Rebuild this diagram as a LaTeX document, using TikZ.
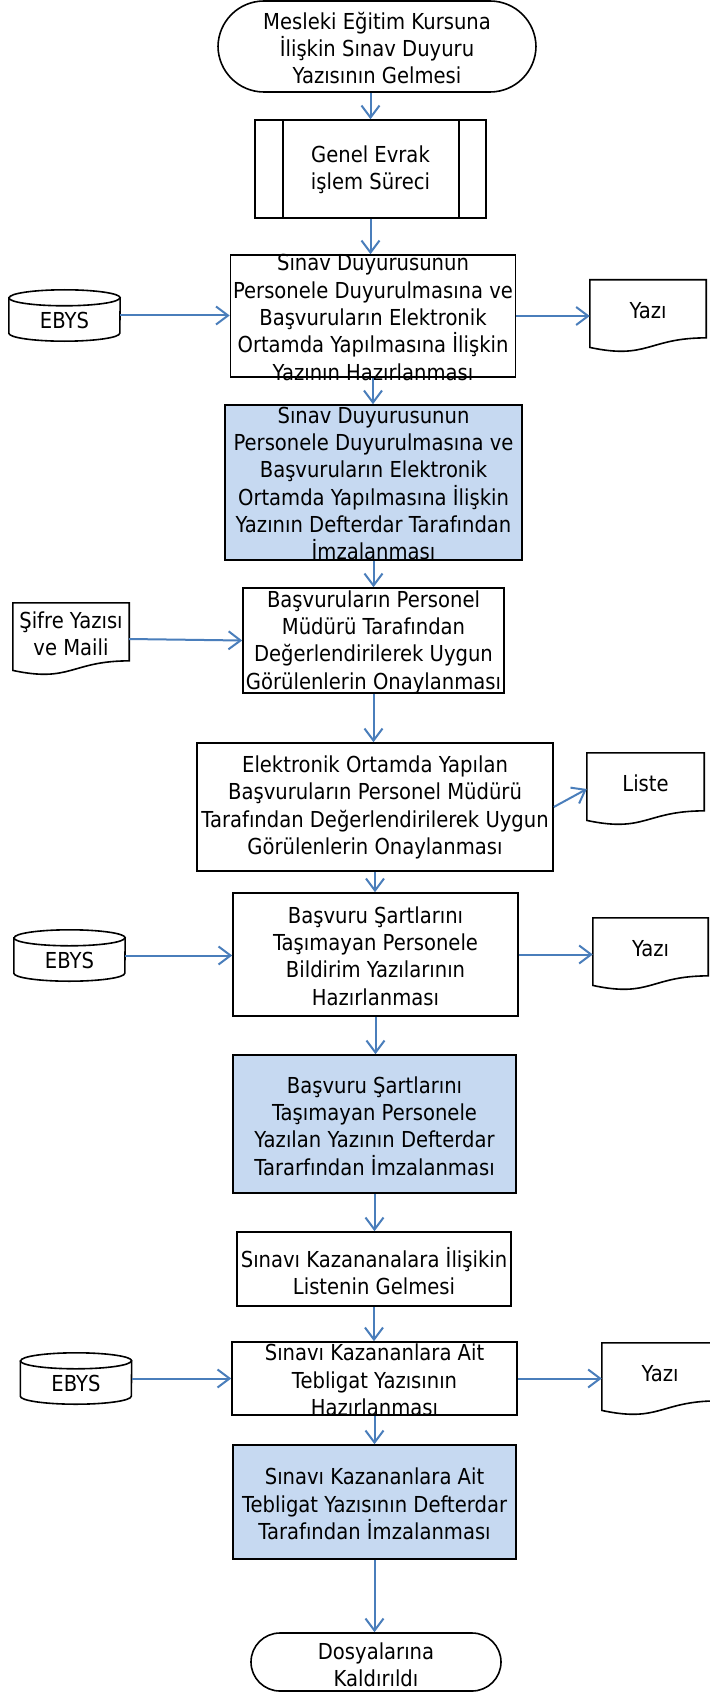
\documentclass[tikz,border=0pt]{standalone}
\usepackage{fontspec}
\setmainfont{DejaVu Sans}[FakeStretch=0.89]
\usetikzlibrary{arrows.meta,calc}
\definecolor{arrowblue}{HTML}{4A7EBB}
\definecolor{boxblue}{HTML}{C6D9F1}
\newcommand{\mycyl}[1]{%
  \draw[shapeline,fill=white] ([yshift=-8pt]#1.north west) -- ([yshift=8pt]#1.south west)
    arc[start angle=180,end angle=360,x radius=55.5pt,y radius=8pt]
    -- ([yshift=-8pt]#1.north east)
    arc[start angle=0,end angle=180,x radius=55.5pt,y radius=8pt] -- cycle;
  \draw[shapeline] ([yshift=-8pt]#1.north west)
    arc[start angle=180,end angle=360,x radius=55.5pt,y radius=8pt];}
\newcommand{\mydoc}[1]{%
  \draw[shapeline,fill=white] (#1.north west) -- (#1.north east)
    -- ($(#1.north east)!0.802!(#1.south east)$)
    .. controls ($(#1.north)!0.802!(#1.south)$) and ($(#1.north)!1.107!(#1.south)$)
    .. ($(#1.north west)!0.934!(#1.south west)$) -- cycle;}
\begin{document}
\begin{tikzpicture}[x=1pt,y=-1pt,
  shapeline/.style={draw=black,line width=1.6pt},
  procbox/.style={shapeline,rectangle,inner sep=0pt},
  bluebox/.style={procbox,fill=boxblue},
  frame/.style={rectangle,inner sep=0pt},
  txt/.style={align=center,inner sep=0pt,font=\fontsize{22}{27.3}\selectfont},
  flow/.style={draw=arrowblue,line width=2pt,-{Straight Barb[length=12pt,width=18pt]}}]
\useasboundingbox (0,0) rectangle (709,1693);
\fill[white] (0,0) rectangle (709,1693);

% main column
\node[procbox,rounded corners=46pt,minimum width=318pt,minimum height=91pt] (start) at (377,46.5) {};
\node[txt] (startt) at (377,48) {Mesleki Eğitim Kursuna\\İlişkin Sınav Duyuru\\Yazısının Gelmesi};

\node[procbox,minimum width=231pt,minimum height=98pt] (genel) at (370.5,169) {};
\draw[shapeline] ([xshift=29pt]genel.north west) -- ([xshift=29pt]genel.south west);
\draw[shapeline] ([xshift=-28pt]genel.north east) -- ([xshift=-28pt]genel.south east);
\node[txt] (genelt) at (370.5,170) {Genel Evrak\\işlem Süreci};

\node[procbox,minimum width=285pt,minimum height=122pt] (boxA) at (373,316) {};
\node[txt] (boxAt) at (373,317.5) {Sınav Duyurusunun\\Personele Duyurulmasına ve\\Başvuruların Elektronik\\Ortamda Yapılmasına İlişkin\\Yazının Hazırlanması};

\node[bluebox,minimum width=297pt,minimum height=155pt] (boxB) at (373.5,482.5) {};
\node[txt] (boxBt) at (373.5,483.5) {Sınav Duyurusunun\\Personele Duyurulmasına ve\\Başvuruların Elektronik\\Ortamda Yapılmasına İlişkin\\Yazının Defterdar Tarafından\\İmzalanması};

\node[procbox,minimum width=261pt,minimum height=105pt] (boxC) at (373.5,640.5) {};
\node[txt] (boxCt) at (373.5,642) {Başvuruların Personel\\Müdürü Tarafından\\Değerlendirilerek Uygun\\Görülenlerin Onaylanması};

\node[procbox,minimum width=356pt,minimum height=128pt] (boxD) at (375,807) {};
\node[txt] (boxDt) at (375,807.5) {Elektronik Ortamda Yapılan\\Başvuruların Personel Müdürü\\Tarafından Değerlendirilerek Uygun\\Görülenlerin Onaylanması};

\node[procbox,minimum width=285pt,minimum height=123pt] (boxE) at (375.5,954.5) {};
\node[txt] (boxEt) at (375.5,956) {Başvuru Şartlarını\\Taşımayan Personele\\Bildirim Yazılarının\\Hazırlanması};

\node[bluebox,minimum width=283pt,minimum height=138pt] (boxF) at (374.5,1124) {};
\node[txt] (boxFt) at (374.5,1126) {Başvuru Şartlarını\\Taşımayan Personele\\Yazılan Yazının Defterdar\\Tararfından İmzalanması};

\node[procbox,minimum width=274pt,minimum height=74pt] (boxG) at (374,1269) {};
\node[txt] (boxGt) at (374,1271) {Sınavı Kazananalara İlişikin\\Listenin Gelmesi};

\node[procbox,minimum width=285pt,minimum height=73pt] (boxH) at (374.5,1378.5) {};
\node[txt] (boxHt) at (374.5,1380) {Sınavı Kazananlara Ait\\Tebligat Yazısının\\Hazırlanması};

\node[bluebox,minimum width=283pt,minimum height=114pt] (boxI) at (374.5,1502) {};
\node[txt] (boxIt) at (374.5,1504) {Sınavı Kazananlara Ait\\Tebligat Yazısının Defterdar\\Tarafından İmzalanması};

\node[procbox,rounded corners=29pt,minimum width=250pt,minimum height=58pt] (stop) at (376,1662) {};
\node[txt] (stopt) at (376,1664.5) {Dosyalarına\\Kaldırıldı};

% side inputs (cylinders)
\node[frame,minimum width=111pt,minimum height=51pt] (ebys1) at (64.5,315.5) {};
\mycyl{ebys1}
\node[txt] (ebys1t) at (64.5,320) {EBYS};
\node[frame,minimum width=111pt,minimum height=51pt] (ebys2) at (69.5,955.5) {};
\mycyl{ebys2}
\node[txt] (ebys2t) at (69.5,960) {EBYS};
\node[frame,minimum width=111pt,minimum height=51pt] (ebys3) at (76,1378.5) {};
\mycyl{ebys3}
\node[txt] (ebys3t) at (76,1383) {EBYS};

% documents
\node[frame,minimum width=116pt,minimum height=72pt] (sifre) at (71,639) {};
\mydoc{sifre}
\node[txt] (sifret) at ($(sifre.north)!0.43!(sifre.south)$) {Şifre Yazısı\\ve Maili};

\node[frame,minimum width=116pt,minimum height=72pt] (yazi1) at (648,316) {};
\mydoc{yazi1}
\node[txt] (yazi1t) at ($(yazi1.north)!0.42!(yazi1.south)$) {Yazı};

\node[frame,minimum width=117pt,minimum height=72pt] (liste) at (645.5,789) {};
\mydoc{liste}
\node[txt] (listet) at ($(liste.north)!0.42!(liste.south)$) {Liste};

\node[frame,minimum width=115pt,minimum height=72pt] (yazi2) at (650.5,954) {};
\mydoc{yazi2}
\node[txt] (yazi2t) at ($(yazi2.north)!0.42!(yazi2.south)$) {Yazı};

\node[frame,minimum width=116pt,minimum height=72pt] (yazi3) at (660,1379) {};
\mydoc{yazi3}
\node[txt] (yazi3t) at ($(yazi3.north)!0.42!(yazi3.south)$) {Yazı};

% main flow
\draw[flow] (genel.north |- start.south) -- (genel.north);
\draw[flow] (genel.south) -- (genel.south |- boxA.north);
\draw[flow] (boxA.south) -- (boxA.south |- boxB.north);
\draw[flow] (boxB.south) -- (boxB.south |- boxC.north);
\draw[flow] (boxC.south) -- (boxC.south |- boxD.north);
\draw[flow] (boxD.south) -- (boxD.south |- boxE.north);
\draw[flow] (boxE.south) -- (boxE.south |- boxF.north);
\draw[flow] (boxF.south) -- (boxF.south |- boxG.north);
\draw[flow] (boxG.south) -- (boxG.south |- boxH.north);
\draw[flow] (boxH.south) -- (boxH.south |- boxI.north);
\draw[flow] (boxI.south) -- (boxI.south |- stop.north);

% side flows
\draw[flow] (ebys1.east) -- (ebys1.east -| boxA.west);
\draw[flow] (boxA.east) -- (boxA.east -| yazi1.west);
\draw[flow] (sifre.east) -- (boxC.west);
\draw[flow] (boxD.east) -- (liste.west);
\draw[flow] (ebys2.east) -- (ebys2.east -| boxE.west);
\draw[flow] (boxE.east) -- (boxE.east -| yazi2.west);
\draw[flow] (ebys3.east) -- (ebys3.east -| boxH.west);
\draw[flow] (boxH.east) -- (boxH.east -| yazi3.west);
\end{tikzpicture}
\end{document}
